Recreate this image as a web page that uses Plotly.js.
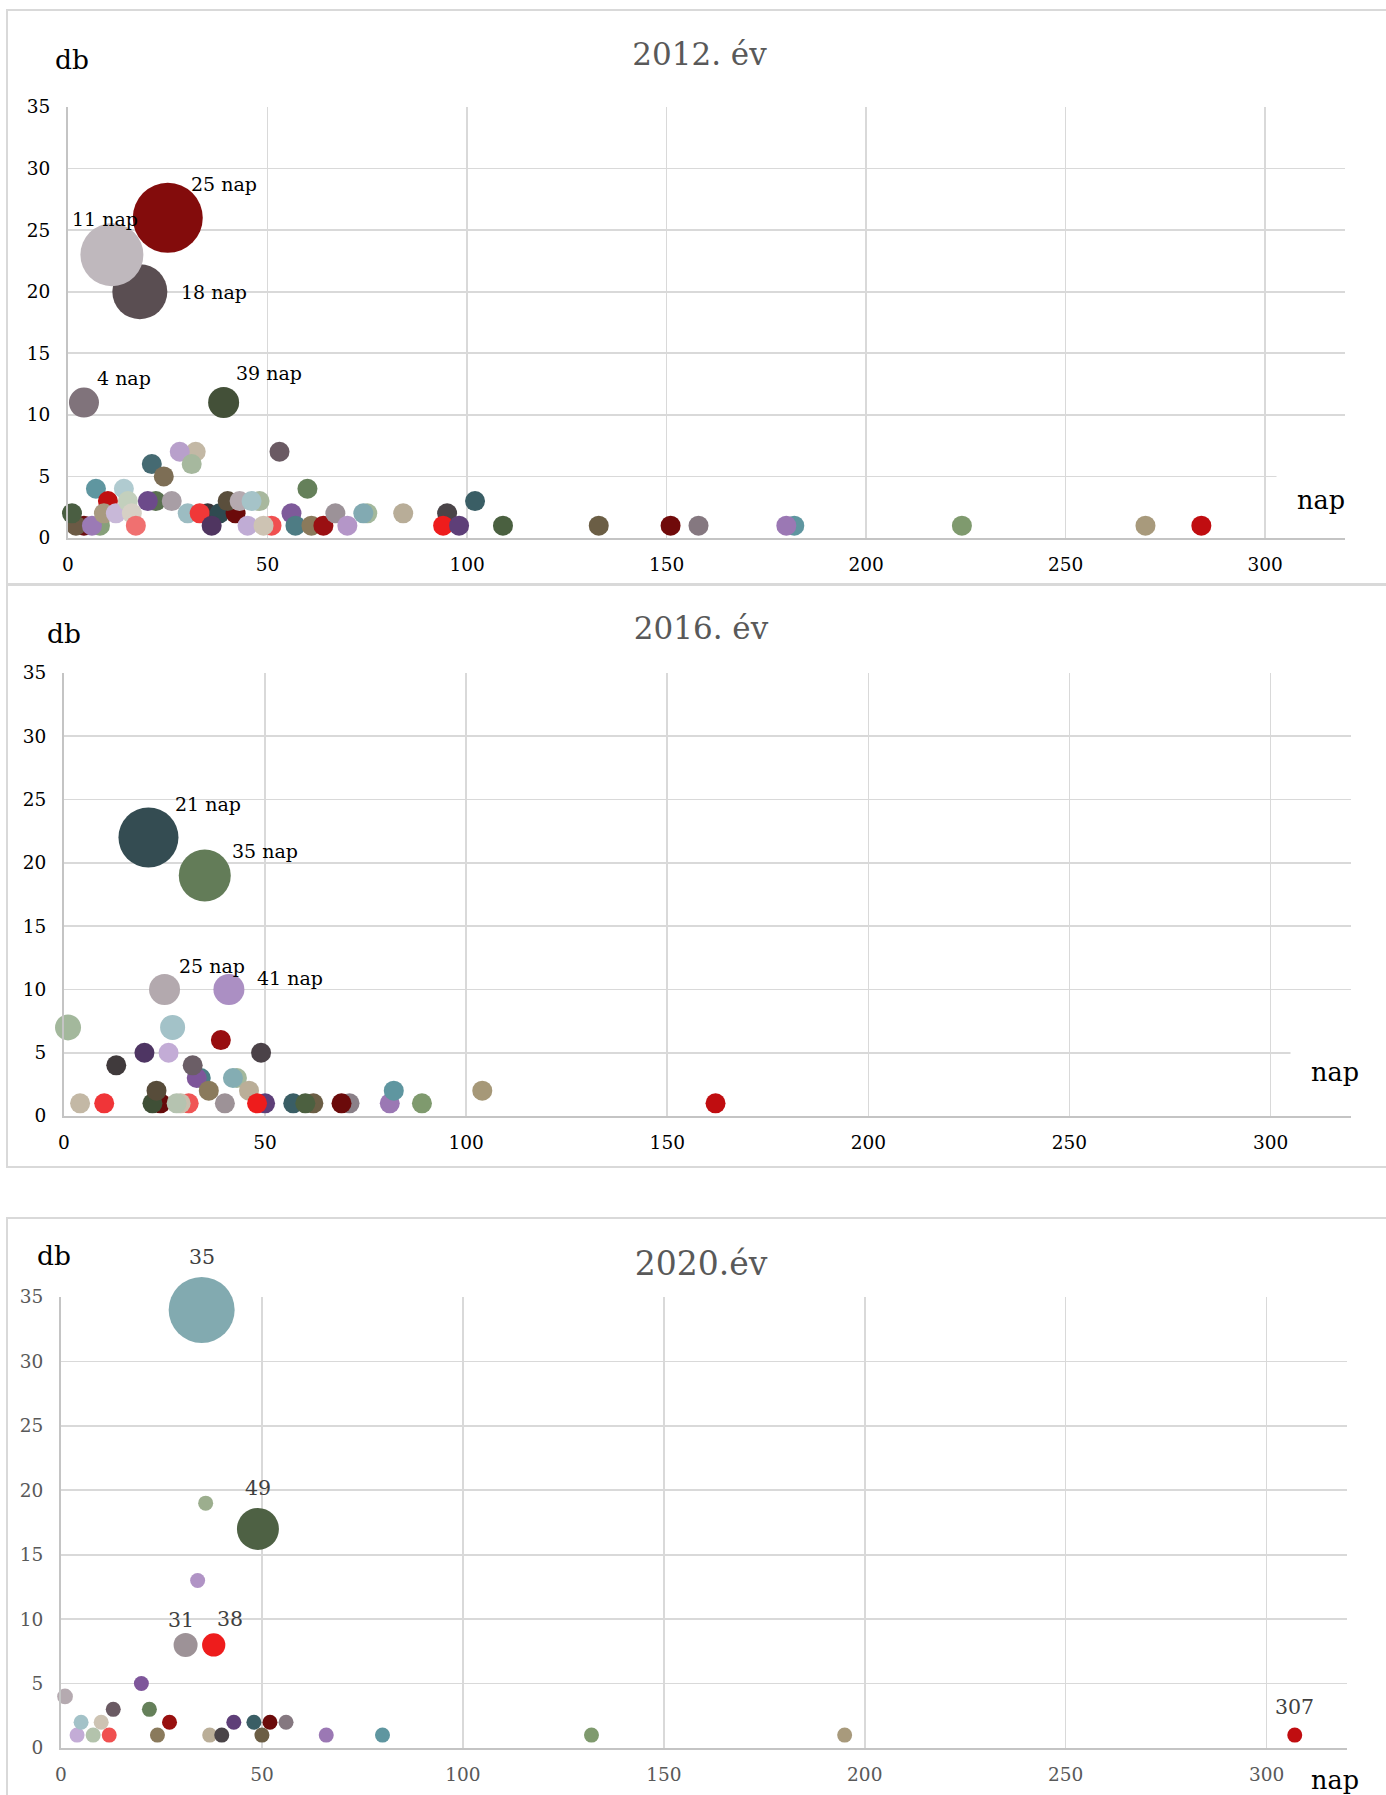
<!DOCTYPE html>
<html><head><meta charset="utf-8">
<script src="https://cdn.plot.ly/plotly-3.0.1.min.js"></script>
<style>
body{margin:0;background:#fff;width:1386px;height:1795px;overflow:hidden;position:relative;}
.box{position:absolute;left:6px;width:1392px;border:2px solid #d9d9d9;box-sizing:border-box;background:#fff;}
</style></head><body>
<div id="c1" class="box" style="top:9px;height:576px"></div>
<div id="c2" class="box" style="top:584px;height:584px"></div>
<div id="c3" class="box" style="top:1217px;height:600px"></div>
<script>
// ---------- DATA ----------
// 2012
const nap2012 = [4,2,8,6,1,7,10,9,12,14,15,16,17,22,20,21,24,26,32,28,31,30,35,33,38,36,42,40,43,48,46,45,51,49,53,56,57,60,61,64,67,70,75,74,84,95,94,98,102,109,133,151,158,182,180,224,270,284,4,39,18,25,11];
const db2012  = [1,1,1,1,2,4,3,2,2,4,3,2,1,3,3,6,5,3,7,7,6,2,2,2,2,1,2,3,3,3,3,1,1,1,7,2,1,4,1,1,2,1,2,2,2,2,1,1,3,1,1,1,1,1,1,1,1,1,11,11,20,26,23];
const buborek2012 = [1,1,1,1,1,1,1,1,1,1,1,1,1,1,1,1,1,1,1,1,1,1,1,1,1,1,1,1,1,1,1,1,1,1,1,1,1,1,1,1,1,1,1,1,1,1,1,1,1,1,1,1,1,1,1,1,1,1,1.5,1.55,2.75,3.5,3.15];
const cimkek2012 = [61,62,60,58,59];
// 2016
const nap2016 = [1,4,10,13,20,24,22,23,26,27,31,29,28,34,33,32,36,39,40,43,42,46,49,50,48,57,62,60,71,69,81,82,89,104,162,25,41,21,35];
const db2016  = [7,1,1,4,5,1,1,2,5,7,1,1,1,3,3,4,2,6,1,3,3,2,5,1,1,1,1,1,1,1,1,2,1,2,1,10,10,22,19];
const buborek2016 = [1.3,1,1,1,1,1,1,1,1,1.25,1,1,1,1,1,1,1,1,1,1,1,1,1,1,1,1,1,1,1,1,1,1,1,1,1,1.55,1.55,3,2.6];
const cimkek2016 = [37,38,35,36];
// 2020
const nap2020 = [1,4,5,8,10,12,13,20,22,24,27,31,34,36,37,38,40,43,48,50,52,56,66,80,132,195,307,35,49];
const db2020  = [4,1,2,1,2,1,3,5,3,1,2,8,13,19,1,8,1,2,2,1,2,2,1,1,1,1,1,34,17];
const buborek2020 = [1.05,1,1,1,1,1,1,1,1,1,1,1.6,1,1,1,1.55,1,1,1,1,1,1,1,1,1,1,1,4.4,2.8];
const cimkek2020 = [27,28,11,15,26];

// ---------- STYLES ----------
const szin2012 = ['#6b0f10','#6b5a45','#87a07a','#9b7ab5','#4a5e42','#5f96a0','#c00f10','#a89a80','#c8b8d8','#b0cbd0','#c3d0bd','#d6d0c5','#f07070','#5a7050','#6c4a8a','#456a72','#7d6e55','#a89ea5','#c3b8a5','#b8a0cb','#a6b89e','#9cbcc2','#3a3438','#f03838','#2f4a50','#4f3560','#6b0a0a','#5a4e3c','#b5aab0','#a8b89e','#a5c3c8','#c0acd5','#f05050','#cdc3b3','#6a5a63','#7e5a9a','#4e7c84','#65805a','#8a7a5c','#9a0f12','#9c9298','#b496c8','#a3b89c','#82aab2','#b8ad98','#4a4448','#ee1c1c','#5e3f78','#3a5e65','#4a6040','#6b5e45','#700a0a','#857880','#5f96a0','#9b78b4','#7f9a6e','#a89a7c','#c00d10','#80737b','#435038','#5a4e52','#830c0c','#bfb8bd'];
const szin2016 = ['#a3b89c','#c3b8a5','#f03538','#403a3c','#4e3563','#650a0a','#3f4f36','#574c3a','#c3acd6','#a3c2c8','#f05555','#c8bfae','#b5c3b0','#4d7d87','#7e569a','#6b5e66','#8a7a5c','#980e10','#9d9297','#a3b89c','#84adb3','#baae98','#4b4248','#5e3f78','#ee1c1c','#3a5e65','#6b5e45','#4c6040','#8a8088','#6b0a0a','#9b78b4','#5f96a0','#7f9a6e','#a69878','#c00d10','#b3a9ae','#ab8fc3','#344c52','#637c58'];
const szin2020 = ['#b5aab0','#c3acd6','#a3c2c8','#b3c3ac','#cdc3b3','#f05050','#6a5a63','#7e569a','#65805a','#8a7a5c','#98100f','#9d9297','#b093c5','#9cae8e','#baae98','#ee1c1c','#4a4448','#5e3f78','#3a5e65','#6b5e45','#6b0a0a','#857880','#9b78b4','#5f96a0','#7f9a6e','#a89a7c','#c00d10','#82aab0','#4e6144'];

const FONT = 'DejaVu Serif';

function build(id, o) {
  const W = 1388, H = o.H, m = o.m;
  const pw = W - m.l - m.r, ph = H - m.t - m.b;
  const px = (x) => (x - m.l) / pw;
  const py = (y) => 1 - (y - m.t) / ph;
  const trace = {
    type: 'scatter', mode: 'markers', x: o.x, y: o.y, cliponaxis: false,
    hoverinfo: 'skip',
    marker: { size: o.b.map(v => v * o.base), sizemode: 'diameter', color: o.c, opacity: 1, line: { width: 0 } }
  };
  const anns = [];
  o.labels.forEach((idx, k) => {
    anns.push({ xref: 'x', yref: 'y', x: o.x[idx], y: o.y[idx], text: o.fmt(o.x[idx]),
      showarrow: false, xshift: o.shifts[k][0], yshift: o.shifts[k][1],
      font: { family: FONT, size: o.lblSize, color: o.lblColor } });
  });
  anns.push({ xref: 'paper', yref: 'paper', x: px(o.db[0]), y: py(o.db[1]), text: 'db', showarrow: false,
    xanchor: 'center', yanchor: 'middle', font: { family: FONT, size: 26.5, color: '#000' } });
  anns.push({ xref: 'paper', yref: 'paper', x: px(o.nap[0]), y: py(o.nap[1]), text: 'nap', showarrow: false,
    xanchor: 'center', yanchor: 'middle', bgcolor: o.napBg ? '#ffffff' : 'rgba(0,0,0,0)', borderpad: o.napPad || 0,
    font: { family: FONT, size: 25.5, color: '#000' } });
  const axBase = { showgrid: true, gridcolor: '#d9d9d9', gridwidth: 1.6, showline: true, linecolor: '#c4c4c4', linewidth: 2,
    zeroline: false, ticks: 'outside', tickcolor: 'rgba(0,0,0,0)', fixedrange: true,
    tickfont: { family: FONT, size: 18.5, color: o.tickColor } };
  const layout = {
    width: W, height: H, margin: m, paper_bgcolor: '#fff', plot_bgcolor: '#fff', showlegend: false,
    title: { text: o.title, x: o.titlePos[0] / W, y: 1 - o.titlePos[1] / H, xref: 'container', yref: 'container',
      xanchor: 'center', yanchor: 'middle', font: { family: FONT, size: o.titleSize || 31, color: '#595959' } },
    xaxis: Object.assign({}, axBase, { range: [0, 320], dtick: 50, tick0: 0, ticklen: 9 }),
    yaxis: Object.assign({}, axBase, { range: [0, 35], dtick: 5, tick0: 0, ticklen: 12 }),
    annotations: anns
  };
  Plotly.newPlot(id, [trace], layout, { staticPlot: true, displayModeBar: false });
}

build('c1', { H: 572, m: { l: 60, r: 51, t: 96, b: 45 }, x: nap2012, y: db2012, b: buborek2012, base: 20, c: szin2012,
  labels: cimkek2012, shifts: [[56, 34], [-7, 36], [74, 0], [40, 25], [45, 30]], fmt: v => v + ' nap', lblSize: 19, lblColor: '#000',
  title: '2012. év', titlePos: [691.5, 43], db: [64, 48.5], nap: [1313, 489], napBg: true, napPad: 20, tickColor: '#000' });

build('c2', { H: 580, m: { l: 56, r: 45, t: 87, b: 50 }, x: nap2016, y: db2016, b: buborek2016, base: 20, c: szin2016,
  labels: cimkek2016, shifts: [[60, 34], [60, 25], [47, 23], [61, 11]], fmt: v => v + ' nap', lblSize: 19, lblColor: '#000',
  title: '2016. év', titlePos: [693, 42], db: [55.5, 47.5], nap: [1326.5, 486], napBg: true, napPad: 20, tickColor: '#000' });

build('c3', { H: 596, m: { l: 53, r: 49, t: 78, b: 67 }, x: nap2020, y: db2020, b: buborek2020, base: 15, c: szin2020,
  labels: cimkek2020, shifts: [[0, 53], [0, 41], [-5, 25], [16, 26], [0, 28]], fmt: v => String(v), lblSize: 20.5, lblColor: '#404040',
  title: '2020.év', titleSize: 33, titlePos: [693, 44], db: [45.5, 36.5], nap: [1326.5, 561], napBg: false, tickColor: '#595959' });
</script>
</body></html>
